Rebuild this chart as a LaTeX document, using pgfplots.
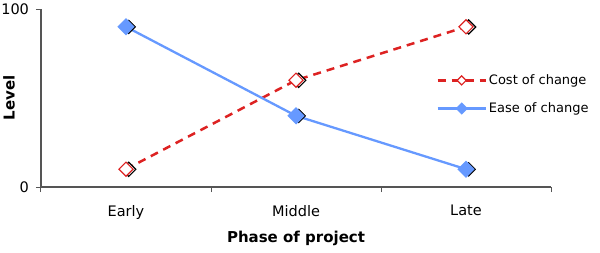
\documentclass[border=0pt]{standalone}
\usepackage{fontspec}
\setmainfont{DejaVu Sans}
\usepackage{pgfplots}
\pgfplotsset{compat=1.18}
\definecolor{costred}{RGB}{221,34,34}
\definecolor{easeblue}{RGB}{102,153,255}
\definecolor{axgray}{RGB}{85,85,85}
\begin{document}
\fontsize{14.5}{17}\selectfont
\begin{tikzpicture}
\path[use as bounding box] (-41pt,-65pt) rectangle (559pt,187pt);
\begin{axis}[
  scale only axis,
  width=510pt, height=178pt,
  at={(0,0)}, anchor=south west,
  xmin=-0.5, xmax=2.5, ymin=0, ymax=100,
  axis x line*=bottom, axis y line*=left,
  axis line style={draw=axgray, line width=1.3pt},
  xtick={0,1,2}, xticklabels={Early,Middle,Late},
  major x tick style={draw=none},
  minor xtick={-0.5,0.5,1.5,2.5},
  minor tick length=5pt,
  minor x tick style={draw=axgray, line width=1pt},
  ytick={0,100},
  major tick length=5pt,
  major y tick style={draw=axgray, line width=1pt},
  tick align=outside,
  /pgf/number format/assume math mode=true,
  xticklabel style={font=\fontsize{14.5}{17}\selectfont, yshift=-8pt},
  yticklabel style={font=\fontsize{14.5}{17}\selectfont, xshift=-2pt},
  xlabel={\bfseries Phase of project},
  ylabel={\bfseries Level},
  xlabel style={font=\fontsize{15}{17}\selectfont, at={(axis description cs:0.5,0)}, anchor=center, yshift=-51pt},
  ylabel style={font=\fontsize{15}{17}\selectfont, at={(axis description cs:0,0.5)}, anchor=center, yshift=32pt},
  clip=false,
  legend style={draw=none, fill=none, at={(rel axis cs:0.775,0.52)}, anchor=west,
    font=\fontsize{13}{15}\selectfont, row sep=12pt, inner xsep=0pt},
  legend cell align=left,
  legend image code/.code={
    \draw[#1, mark size=3.2pt, mark repeat=2, mark phase=2]
      plot coordinates {(0pt,0pt) (24pt,0pt) (48pt,0pt)};},
]
\addplot[forget plot, draw=none, mark=square*, mark size=5pt,
  mark options={rotate=45, draw=black, fill=white, line width=1.2pt, xshift=1.8pt, yshift=-2pt}]
  coordinates {(0,10) (1,60) (2,90)};
\addplot[costred, line width=2.5pt, dash pattern=on 8pt off 6pt, mark=square*, mark size=5pt,
  mark options={rotate=45, solid, draw=costred, fill=white, line width=1.2pt}]
  coordinates {(0,10) (1,60) (2,90)};
\addlegendentry{Cost of change}
\addplot[forget plot, draw=none, mark=square*, mark size=5pt,
  mark options={rotate=45, draw=black, fill=black, xshift=1.8pt, yshift=-2pt}]
  coordinates {(0,90) (1,40) (2,10)};
\addplot[easeblue, line width=2.3pt, mark=square*, mark size=5pt,
  mark options={rotate=45, solid, draw=easeblue, fill=easeblue}]
  coordinates {(0,90) (1,40) (2,10)};
\addlegendentry{Ease of change}
\end{axis}
\end{tikzpicture}
\end{document}
